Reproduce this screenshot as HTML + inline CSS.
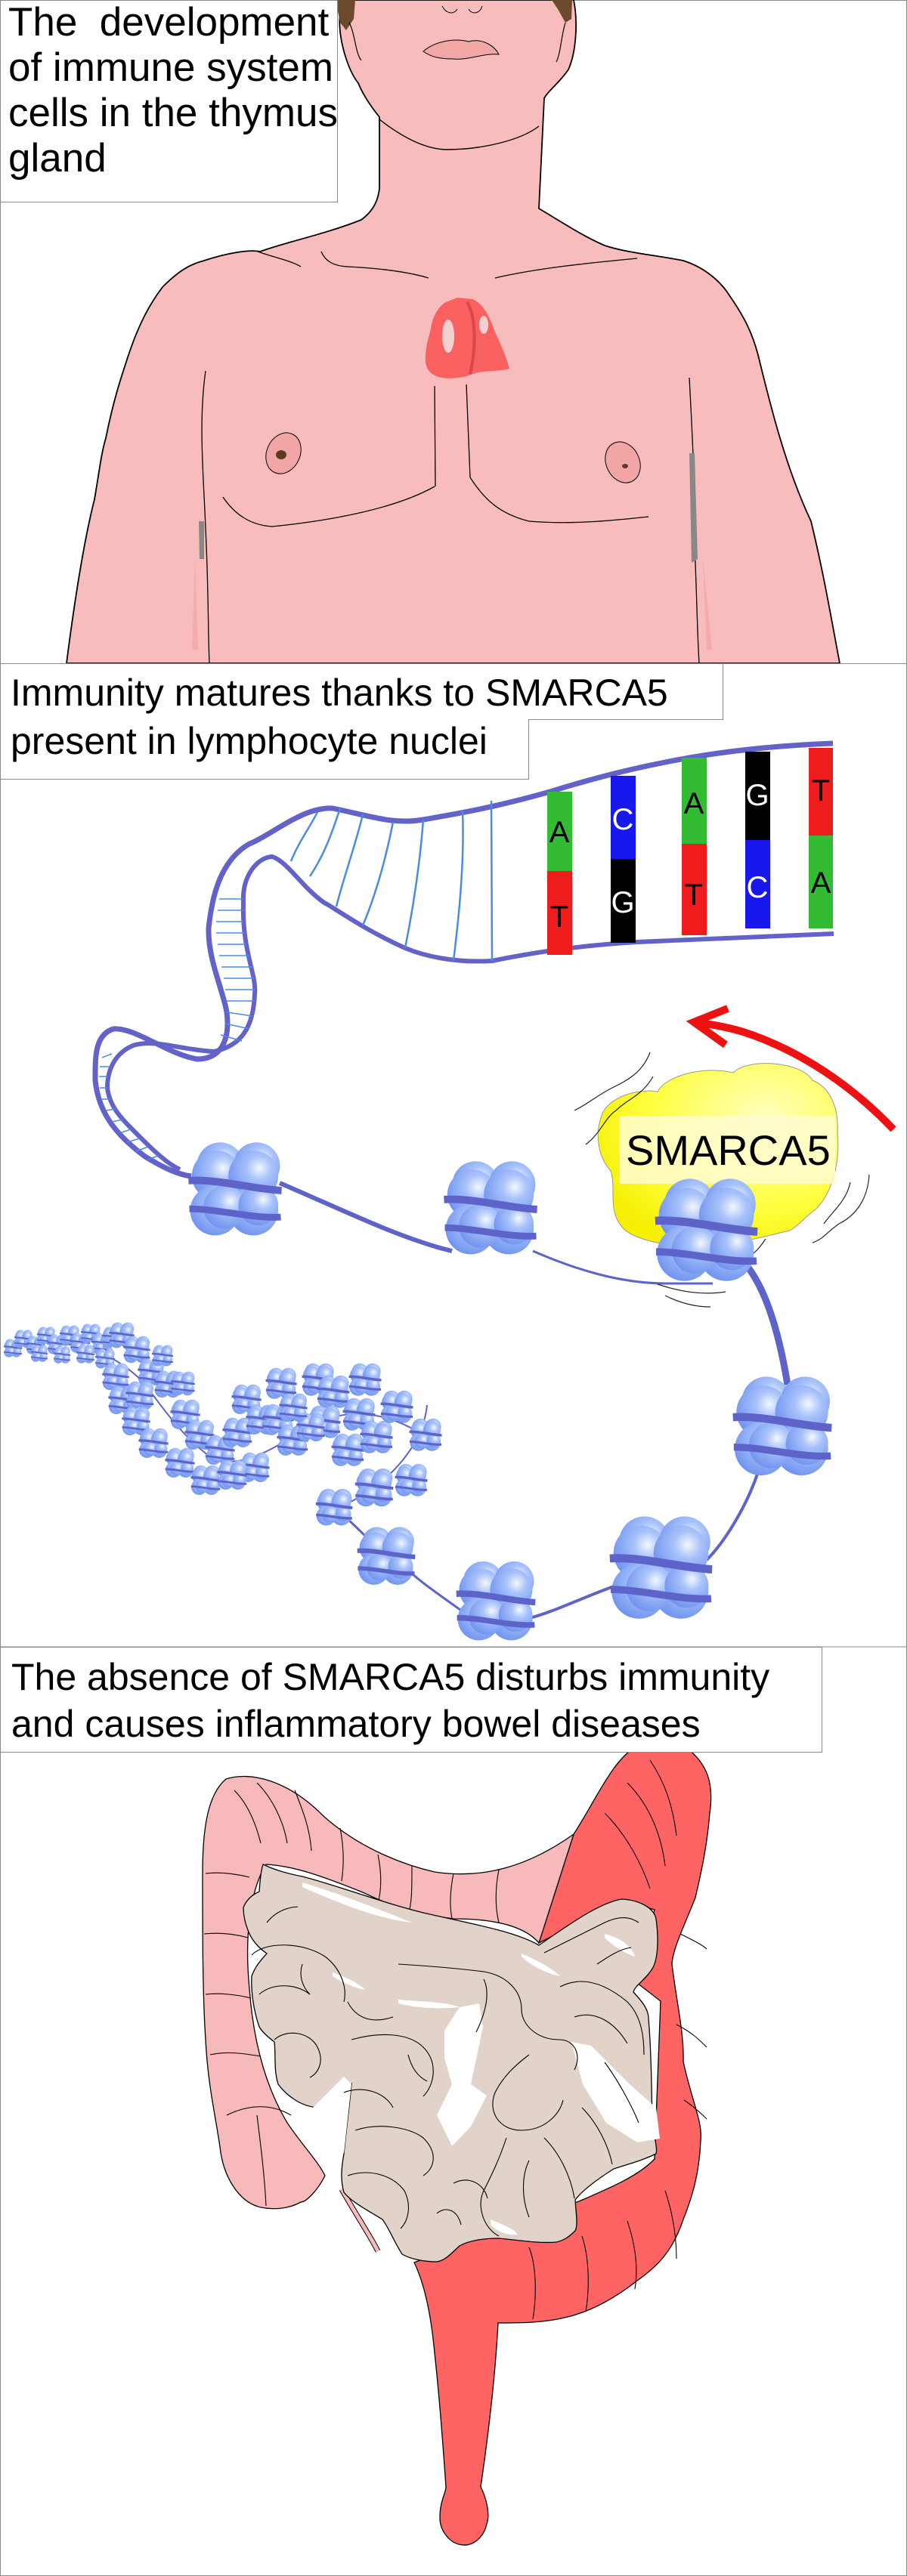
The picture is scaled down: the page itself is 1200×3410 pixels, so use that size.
<!DOCTYPE html>
<html><head><meta charset="utf-8"><style>
html,body{margin:0;padding:0;background:#fff}
#w{position:relative;width:1200px;height:3410px;overflow:hidden;background:#fff;font-family:"Liberation Sans",sans-serif}
svg{position:absolute;left:0;top:0}
.box{position:absolute;background:#fff;border:1px solid #8a8a8a;box-sizing:border-box;color:#000}
</style></head><body><div id="w">
<svg width="1200" height="3410" viewBox="0 0 1200 3410">
<defs>
<radialGradient id="bg" cx="0.62" cy="0.35" r="0.7"><stop offset="0" stop-color="#f4f7ff"/><stop offset="0.35" stop-color="#a8c2fb"/><stop offset="1" stop-color="#6e92ee"/></radialGradient>
<radialGradient id="yg" cx="0.7" cy="0.3" r="0.8"><stop offset="0" stop-color="#ffffc0"/><stop offset="0.6" stop-color="#ffff40"/><stop offset="1" stop-color="#f5ef00"/></radialGradient>
<symbol id="nuc" viewBox="-60 -60 120 120">
<circle cx="-18" cy="-30" r="28" fill="url(#bg)"/><circle cx="26" cy="-30" r="28" fill="url(#bg)"/>
<circle cx="-22" cy="-18" r="30" fill="url(#bg)"/><circle cx="22" cy="-18" r="30" fill="url(#bg)"/>
<circle cx="-24" cy="24" r="30" fill="url(#bg)"/><circle cx="22" cy="24" r="30" fill="url(#bg)"/>
<circle cx="-12" cy="20" r="26" fill="url(#bg)"/><circle cx="28" cy="18" r="24" fill="url(#bg)"/>
<path d="M-56,-12 C-20,-14 20,-2 56,0" stroke="#5d63c8" stroke-width="9" fill="none"/>
<path d="M-55,22 C-20,22 20,34 55,32" stroke="#5d63c8" stroke-width="8" fill="none"/>
</symbol>
</defs>
<rect x="0.5" y="0.5" width="1199" height="3409" fill="none" stroke="#8a8a8a"/>
<path d="M452,0 L759,0 C765,30 762,70 752,92 C740,110 725,120 720,130 L713,276 C740,292 770,312 800,325 C830,335 870,338 904,345 C935,355 955,375 965,391 C985,420 995,440 1003,470 C1020,540 1040,620 1073,690 C1090,760 1100,820 1111,878 L88,878 C98,800 110,720 125,661 C132,620 134,600 140,580 C150,530 160,500 170,470 C185,425 200,400 215,380 C235,360 250,350 270,345 C300,335 330,330 344,333 C380,320 430,310 478,291 C490,282 500,270 502,249 L502,155 C490,140 480,125 474,110 C462,95 455,70 452,55 C448,35 449,15 452,0 Z" fill="#f8bcbc" stroke="#000" stroke-width="1.8"/>
<path d="M444,0 L470,0 L468,25 L458,40 L450,30 Z" fill="#6b4a2e"/>
<path d="M730,0 L757,0 L756,25 L748,30 L738,12 Z" fill="#6b4a2e"/>
<path d="M462,30 C470,45 470,70 478,80" stroke="#000" fill="none" stroke-width="1.2"/>
<path d="M748,30 C742,50 742,70 736,82" stroke="#000" fill="none" stroke-width="1.2"/>
<path d="M560,68 C575,55 600,50 620,55 C640,50 655,62 660,72 C640,70 620,80 600,78 C580,78 570,75 560,68 Z" fill="#f2a7a7" stroke="#000" stroke-width="1"/>
<path d="M585,8 C590,18 600,20 605,12 M620,12 C625,20 635,18 638,8" stroke="#000" fill="none" stroke-width="1"/>
<path d="M502,158 C530,180 560,197 590,198 C640,198 690,185 713,167" stroke="#000" fill="none" stroke-width="1.4"/>
<path d="M341,333 C360,340 385,345 398,353 M425,333 C430,345 440,352 460,353 C500,355 540,360 567,368 M655,368 C710,355 780,348 843,342" stroke="#000" fill="none" stroke-width="1.3"/>
<path d="M575,511 L576,644 M617,509 L622,632" stroke="#000" fill="none" stroke-width="1.3"/>
<path d="M295,658 C310,680 330,695 360,697 C430,690 520,675 575,644 M622,632 C640,660 660,680 700,690 C760,695 820,688 858,684" stroke="#000" fill="none" stroke-width="1.3"/>
<path d="M272,491 C262,560 270,640 272,700 C276,780 275,830 277,878 M912,500 C915,560 920,640 918,700 C922,780 922,830 925,878" stroke="#000" fill="none" stroke-width="1.3"/>
<path d="M263,690 L270,690 L270,740 L264,740 Z" fill="#888"/>
<path d="M912,600 L919,600 L923,740 L915,745 Z" fill="#888"/>
<path d="M258,740 L262,860 L254,860 Z M930,740 L942,860 L935,860 Z" fill="#f0a0a0" opacity="0.6"/>
<ellipse cx="375" cy="600" rx="22" ry="28" transform="rotate(25 375 600)" fill="#f2a5a5" stroke="#000" stroke-width="1"/>
<ellipse cx="372" cy="602" rx="7" ry="6" fill="#5c3b20"/>
<ellipse cx="824" cy="612" rx="22" ry="28" transform="rotate(-25 824 612)" fill="#f2a5a5" stroke="#000" stroke-width="1"/>
<ellipse cx="827" cy="617" rx="4" ry="3" fill="#5c3b20"/>
<path d="M590,400 L605,394 L625,396 C640,402 648,420 655,440 C665,460 672,480 674,488 C660,492 640,490 625,495 C615,500 595,502 585,500 C570,497 565,490 563,480 C562,460 568,445 570,435 C572,420 580,405 590,400 Z" fill="#f96060"/>
<path d="M618,400 C630,420 630,460 622,495" stroke="#d84848" stroke-width="4" fill="none"/>
<ellipse cx="593" cy="445" rx="8" ry="22" fill="#f4d0d0"/><ellipse cx="640" cy="430" rx="6" ry="12" fill="#f4d0d0"/>
<line x1="0" y1="878.5" x2="1200" y2="878.5" stroke="#8a8a8a"/>

<path d="M1102,984 C1000,988 880,1000 728,1048 C650,1070 600,1078 560,1085 C520,1092 490,1080 440,1070 C400,1068 360,1105 330,1117 C290,1140 280,1190 276,1229 C275,1270 295,1310 300,1340 C305,1380 290,1402 261,1402 C220,1395 180,1360 150,1362 C125,1370 126,1400 126,1430 C130,1470 150,1500 192,1531 C215,1545 235,1555 253,1557" fill="none" stroke="#6262c8" stroke-width="7"/>
<path d="M1103,1236 C1000,1240 900,1245 843,1247 C760,1252 700,1262 651,1272 C600,1275 560,1265 536,1255 C480,1230 440,1200 429,1195 C400,1175 380,1140 360,1134 C340,1135 320,1160 322,1195 C320,1260 340,1290 337,1316 C335,1360 320,1384 283,1392 C240,1390 205,1375 176,1384 C150,1395 142,1419 142,1440 C145,1465 160,1480 180,1500 C200,1520 220,1540 238,1548" fill="none" stroke="#6262c8" stroke-width="6"/>
<g stroke="#4a8ae8" stroke-width="2.5" fill="none">
<path d="M650,1060 L651,1272 M612,1073 C615,1150 605,1230 600,1272 M560,1085 C555,1150 545,1210 536,1255 M520,1088 C510,1140 495,1190 480,1225 M480,1078 C470,1120 455,1160 445,1200 M450,1070 C440,1100 430,1130 410,1160 M420,1075 C410,1095 395,1115 385,1140"/>
</g>
<g stroke="#4a8ae8" stroke-width="1.5">
<path d="M290,1190 L322,1190 M288,1205 L322,1205 M286,1220 L322,1220 M286,1235 L324,1235 M288,1250 L326,1250 M290,1265 L330,1265 M293,1280 L334,1280 M296,1295 L336,1295 M298,1310 L337,1310 M300,1325 L336,1325 M300,1340 L334,1345 M298,1355 L330,1362 M292,1370 L320,1378"/>
<path d="M135,1400 L148,1395 M132,1412 L144,1412 M131,1425 L142,1425 M132,1440 L142,1440 M135,1455 L147,1455 M140,1470 L153,1468 M148,1485 L163,1482 M158,1500 L173,1495 M168,1512 L185,1507 M180,1524 L196,1518 M195,1535 L210,1530"/>
</g>
<rect x="724" y="1048" width="33" height="105" fill="#33bb33"/><rect x="724" y="1153" width="33" height="111" fill="#ee1c1c"/>
<rect x="808" y="1027" width="33" height="110" fill="#1818ee"/><rect x="808" y="1137" width="33" height="111" fill="#000"/>
<rect x="902" y="1003" width="33" height="114" fill="#33bb33"/><rect x="902" y="1117" width="33" height="121" fill="#ee1c1c"/>
<rect x="986" y="995" width="33" height="117" fill="#000"/><rect x="986" y="1112" width="33" height="117" fill="#1818ee"/>
<rect x="1070" y="990" width="32" height="116" fill="#ee1c1c"/><rect x="1070" y="1106" width="32" height="123" fill="#33bb33"/>
<g font-family="Liberation Sans, sans-serif" font-size="40" text-anchor="middle">
<text x="740" y="1115">A</text><text x="740" y="1227">T</text>
<text x="824" y="1098" fill="#fff">C</text><text x="824" y="1208" fill="#fff">G</text>
<text x="918" y="1077">A</text><text x="918" y="1198">T</text>
<text x="1002" y="1066" fill="#fff">G</text><text x="1002" y="1188" fill="#fff">C</text>
<text x="1086" y="1060">T</text><text x="1086" y="1182">A</text>
</g>
<path d="M1182,1495 C1130,1440 1060,1390 980,1365 C955,1358 935,1355 920,1354" fill="none" stroke="#ee1111" stroke-width="10"/>
<path d="M963,1335 L918,1353 L960,1383" fill="none" stroke="#ee1111" stroke-width="10"/>
<g fill="none" stroke="#5d63c8">
<path d="M370,1566 C450,1600 530,1640 598,1656" stroke-width="6"/>
<path d="M705,1656 C760,1680 820,1699 881,1699 L943,1699" stroke-width="3"/>
<path d="M973,1660 C1010,1690 1030,1760 1042,1833" stroke-width="9"/>
<path d="M1004,1945 C990,1990 960,2040 935,2065" stroke-width="4"/>
<path d="M812,2100 C770,2115 730,2135 697,2143" stroke-width="4"/>
<path d="M613,2134 C580,2110 550,2090 536,2074" stroke-width="3"/>
<path d="M490,2040 C470,2020 455,2005 441,1997" stroke-width="3"/>
<path d="M460,1990 C520,1960 560,1910 565,1860" stroke-width="2"/>
<path d="M20,1780 C100,1770 150,1790 190,1830 C220,1870 240,1900 280,1930 C330,1950 380,1900 430,1880 C480,1860 530,1880 560,1900" stroke-width="2"/>
</g>
<path d="M795,1480 C800,1455 840,1440 870,1445 C880,1425 930,1410 970,1420 C990,1400 1060,1405 1075,1430 C1100,1440 1110,1470 1108,1500 C1112,1540 1100,1580 1080,1600 C1060,1615 1050,1630 1040,1630 C1000,1640 960,1650 920,1650 C880,1650 830,1640 820,1620 C805,1600 815,1570 808,1550 C790,1530 788,1500 795,1480 Z" fill="url(#yg)" stroke="#999" stroke-width="1"/>
<rect x="820" y="1477" width="285" height="90" fill="#fffbd0" opacity="0.85"/>
<text x="828" y="1542" font-family="Liberation Sans, sans-serif" font-size="56">SMARCA5</text>
<g fill="none" stroke="#222" stroke-width="1.2">
<path d="M860,1393 C850,1420 830,1430 810,1440 C790,1450 780,1460 760,1470"/>
<path d="M864,1425 C850,1450 830,1455 815,1470 C800,1480 795,1500 775,1515"/>
<path d="M1150,1555 C1148,1590 1130,1610 1110,1620 C1095,1630 1090,1640 1075,1645"/>
<path d="M1125,1565 C1120,1590 1100,1605 1090,1620"/>
<path d="M1013,1640 C1000,1660 985,1670 970,1672"/>
<path d="M870,1700 C900,1710 930,1715 960,1710"/>
<path d="M880,1715 C900,1725 920,1730 940,1730"/>
</g>
<use href="#nuc" x="245" y="1510" width="132" height="132"/>
<use href="#nuc" x="583" y="1535" width="132" height="132"/>
<use href="#nuc" x="862" y="1558" width="145" height="145"/>
<use href="#nuc" x="965" y="1820" width="140" height="140"/>
<use href="#nuc" x="802" y="2005" width="145" height="145"/>
<use href="#nuc" x="600" y="2065" width="112" height="112"/>
<use href="#nuc" x="470" y="2020" width="82" height="82"/>
<use href="#nuc" x="416" y="1970" width="52" height="52"/>
<use href="#nuc" x="468" y="1943" width="54" height="54"/>
<g>
<use href="#nuc" x="4" y="1772" width="26" height="26"/><use href="#nuc" x="18" y="1760" width="26" height="26"/>
<use href="#nuc" x="34" y="1768" width="26" height="26"/><use href="#nuc" x="48" y="1756" width="26" height="26"/>
<use href="#nuc" x="62" y="1766" width="28" height="28"/><use href="#nuc" x="78" y="1754" width="28" height="28"/>
<use href="#nuc" x="92" y="1764" width="28" height="28"/><use href="#nuc" x="106" y="1752" width="28" height="28"/>
<use href="#nuc" x="120" y="1764" width="30" height="30"/><use href="#nuc" x="134" y="1756" width="30" height="30"/>
<use href="#nuc" x="40" y="1780" width="24" height="24"/><use href="#nuc" x="70" y="1782" width="24" height="24"/>
<use href="#nuc" x="100" y="1780" width="26" height="26"/><use href="#nuc" x="125" y="1785" width="28" height="28"/>
<use href="#nuc" x="143" y="1750" width="36" height="36"/><use href="#nuc" x="162" y="1768" width="38" height="38"/>
<use href="#nuc" x="181" y="1798" width="38" height="38"/><use href="#nuc" x="203" y="1814" width="38" height="38"/>
<use href="#nuc" x="134" y="1804" width="38" height="38"/><use href="#nuc" x="142" y="1834" width="40" height="40"/>
<use href="#nuc" x="165" y="1828" width="40" height="40"/><use href="#nuc" x="160" y="1862" width="40" height="40"/>
<use href="#nuc" x="182" y="1890" width="42" height="42"/><use href="#nuc" x="224" y="1852" width="42" height="42"/>
<use href="#nuc" x="217" y="1916" width="42" height="42"/><use href="#nuc" x="251" y="1939" width="42" height="42"/>
<use href="#nuc" x="243" y="1879" width="42" height="42"/><use href="#nuc" x="270" y="1899" width="42" height="42"/>
<use href="#nuc" x="293" y="1876" width="42" height="42"/><use href="#nuc" x="305" y="1832" width="42" height="42"/>
<use href="#nuc" x="324" y="1859" width="42" height="42"/><use href="#nuc" x="316" y="1922" width="42" height="42"/>
<use href="#nuc" x="286" y="1932" width="42" height="42"/><use href="#nuc" x="350" y="1810" width="44" height="44"/>
<use href="#nuc" x="346" y="1858" width="44" height="44"/><use href="#nuc" x="365" y="1885" width="44" height="44"/>
<use href="#nuc" x="398" y="1804" width="46" height="46"/><use href="#nuc" x="418" y="1820" width="46" height="46"/>
<use href="#nuc" x="406" y="1860" width="46" height="46"/><use href="#nuc" x="437" y="1897" width="46" height="46"/>
<use href="#nuc" x="460" y="1804" width="46" height="46"/><use href="#nuc" x="452" y="1850" width="46" height="46"/>
<use href="#nuc" x="475" y="1880" width="46" height="46"/><use href="#nuc" x="502" y="1840" width="46" height="46"/>
<use href="#nuc" x="540" y="1877" width="46" height="46"/><use href="#nuc" x="521" y="1937" width="46" height="46"/>
<use href="#nuc" x="391" y="1870" width="40" height="40"/><use href="#nuc" x="368" y="1844" width="40" height="40"/>
<use href="#nuc" x="200" y="1780" width="30" height="30"/><use href="#nuc" x="225" y="1815" width="34" height="34"/>
</g>
<line x1="0" y1="2180" x2="1200" y2="2180" stroke="#8a8a8a"/>

<path d="M713,2572 L759,2428 C790,2380 810,2330 843,2311 C865,2300 889,2303 910,2315 C935,2335 945,2360 939,2400 C935,2450 925,2490 920,2512 C905,2550 890,2580 889,2600 C895,2650 905,2690 904,2729 C915,2780 930,2810 927,2834 C925,2880 915,2910 904,2938 C890,2980 870,3000 843,3019 C810,3045 780,3060 751,3067 C720,3075 690,3075 659,3075 C655,3150 645,3230 636,3292 C645,3310 648,3330 644,3341 C640,3360 625,3370 613,3369 C595,3368 582,3350 582,3333 C582,3310 590,3300 590,3292 C585,3220 580,3160 575,3115 C570,3060 560,3020 548,2995 L590,2979 C650,2950 710,2935 766,2914 C810,2895 845,2880 866,2858 L874,2649 L843,2625 L866,2528 L824,2516 Z" fill="#fe6464" stroke="#000" stroke-width="1.3"/>
<g fill="none" stroke="#000" stroke-width="1.1">
<path d="M860,2330 C880,2360 890,2390 895,2430 M830,2360 C860,2390 875,2430 880,2470 M800,2400 C830,2430 850,2470 860,2500 M900,2560 C920,2570 930,2575 935,2580 M895,2680 C915,2690 925,2700 935,2710 M905,2780 C920,2790 930,2800 935,2805 M880,2900 C890,2930 895,2960 895,2990 M830,2940 C840,2970 845,3000 840,3030 M770,2960 C780,2990 780,3030 775,3060 M700,2975 C710,3000 710,3040 705,3070"/>
</g>
<path d="M299,2355 C330,2345 380,2355 429,2405 C480,2450 540,2470 575,2478 C640,2488 700,2470 759,2428 L713,2572 C690,2545 640,2540 600,2540 C560,2535 520,2525 480,2505 C430,2485 390,2470 352,2468 C335,2495 322,2550 330,2633 C335,2700 350,2760 380,2810 C400,2840 420,2860 430,2880 C420,2900 405,2915 398,2915 C380,2925 360,2925 345,2922 C315,2915 295,2880 291,2842 C285,2800 275,2760 272,2700 C268,2640 268,2560 268,2480 C268,2420 275,2375 299,2355 Z" fill="#f7b9b9" stroke="#000" stroke-width="1.3"/>
<path d="M452,2898 C470,2930 490,2960 500,2980" stroke="#000" stroke-width="7" fill="none"/>
<path d="M452,2898 C470,2930 490,2960 500,2980" stroke="#f7b9b9" stroke-width="5" fill="none"/>
<g fill="none" stroke="#000" stroke-width="1.1">
<path d="M310,2370 C330,2390 340,2420 345,2440 M340,2360 C360,2380 375,2410 380,2440 M390,2370 C400,2395 410,2420 412,2450 M450,2420 C455,2445 455,2470 452,2490 M500,2455 C505,2480 505,2500 500,2520 M545,2470 C545,2500 545,2520 540,2535 M600,2480 C595,2505 595,2525 598,2540 M660,2475 C655,2500 655,2525 660,2545 M272,2480 C290,2478 310,2480 330,2485 M270,2560 C290,2558 310,2560 328,2565 M272,2640 C290,2638 312,2640 332,2645 M278,2720 C300,2715 320,2718 345,2722 M300,2800 C330,2785 360,2785 385,2800 M340,2800 C345,2840 350,2880 352,2920"/>
</g>
<path d="M348,2468 C365,2476 380,2480 400,2484 C450,2497 500,2517 560,2532 C620,2546 680,2556 713,2575 C750,2550 790,2520 822,2514 C845,2515 865,2525 868,2540 C872,2570 870,2595 863,2606 C855,2620 840,2628 838,2637 C850,2650 858,2660 858,2672 C862,2720 862,2770 863,2810 C866,2830 870,2845 868,2851 C850,2860 830,2865 812,2871 C790,2885 770,2900 761,2912 C762,2930 765,2945 761,2953 C752,2962 745,2966 736,2968 C710,2970 685,2965 659,2963 C640,2963 620,2966 608,2973 C598,2982 590,2992 578,2994 C560,2994 542,2990 532,2984 C520,2965 515,2950 506,2938 C485,2925 465,2915 455,2902 C450,2885 452,2868 455,2851 C458,2820 462,2790 465,2759 C455,2772 440,2785 424,2790 C400,2790 380,2775 368,2759 C362,2740 365,2720 363,2703 C355,2697 347,2690 343,2683 C335,2660 332,2635 333,2616 C338,2602 346,2594 353,2586 C340,2577 332,2566 328,2555 C324,2545 322,2535 322,2525 C326,2515 334,2508 343,2504 C344,2490 345,2478 348,2468 Z" fill="#e2d3ca" stroke="#000" stroke-width="1.3"/>
<g fill="#fff">
<path d="M400,2492 C450,2507 500,2527 545,2545 C500,2540 450,2520 400,2498 Z"/>
<path d="M440,2611 C460,2618 475,2626 483,2634 C470,2632 452,2624 440,2616 Z"/>
<path d="M527,2647 C560,2650 590,2650 608,2657 C580,2660 550,2658 527,2652 Z"/>
<path d="M588,2688 L608,2657 L634,2652 L639,2683 L623,2759 L644,2774 L623,2815 L598,2841 L578,2800 L598,2759 L588,2724 Z"/>
<path d="M756,2703 L782,2708 L833,2759 L868,2790 L873,2831 L843,2836 L802,2810 L771,2759 Z"/>
<path d="M414,2790 L455,2749 L465,2759 L455,2851 L440,2800 Z"/>
<path d="M649,2938 C665,2945 680,2950 685,2958 C670,2960 655,2952 649,2945 Z"/>
<path d="M690,2586 C710,2595 730,2605 741,2616 C720,2612 700,2600 690,2590 Z"/>
<path d="M800,2560 C820,2565 835,2575 840,2590 C825,2585 810,2575 800,2565 Z"/>
</g>
<g fill="none" stroke="#000" stroke-width="1.1">
<path d="M353,2545 C365,2530 380,2525 394,2524"/>
<path d="M333,2588 C350,2570 400,2570 430,2590 C450,2605 460,2630 455,2650"/>
<path d="M343,2640 C360,2625 390,2625 410,2640"/>
<path d="M363,2700 C380,2685 410,2690 420,2710 C430,2730 420,2745 410,2750"/>
<path d="M460,2650 C470,2670 490,2680 520,2670"/>
<path d="M465,2700 C500,2690 540,2690 560,2710 C580,2730 575,2760 560,2775"/>
<path d="M455,2770 C480,2760 510,2770 520,2790"/>
<path d="M470,2820 C500,2810 540,2815 560,2830 C580,2850 575,2870 560,2880"/>
<path d="M460,2880 C490,2870 520,2880 535,2900 C545,2920 540,2940 530,2950"/>
<path d="M527,2600 C560,2602 600,2605 640,2610 C670,2615 690,2635 690,2660 C690,2680 710,2700 740,2700 C760,2700 770,2720 760,2740"/>
<path d="M640,2620 C650,2640 640,2670 630,2690"/>
<path d="M700,2720 C680,2735 665,2750 655,2770 C645,2795 660,2820 690,2820 C720,2820 740,2800 745,2780"/>
<path d="M670,2830 C660,2860 650,2880 640,2900 C630,2920 640,2950 660,2960"/>
<path d="M720,2830 C740,2850 755,2880 760,2910"/>
<path d="M700,2860 C690,2880 690,2910 700,2935"/>
<path d="M600,2890 C620,2880 640,2890 645,2910"/>
<path d="M578,2930 C590,2920 605,2925 610,2945"/>
<path d="M741,2630 C770,2615 800,2625 830,2650 C850,2670 852,2700 852,2720"/>
<path d="M760,2670 C790,2660 815,2680 830,2705"/>
<path d="M720,2585 C740,2575 770,2560 800,2545 C815,2538 830,2535 845,2545"/>
<path d="M790,2600 C805,2590 820,2580 835,2578"/>
<path d="M800,2730 C815,2750 835,2785 845,2810"/>
<path d="M770,2790 C790,2810 805,2840 810,2865"/>
<path d="M400,2600 C395,2615 400,2630 410,2640"/>
<path d="M540,2720 C545,2740 555,2750 565,2755"/>
</g>
</svg>

<div class="box" style="left:0;top:0;width:447px;height:268px;padding:0 0 0 10px;font-size:53px;line-height:60px;white-space:nowrap"><div style="margin-top:-1px">The&nbsp; development<br>of immune system<br>cells in the thymus<br>gland</div></div>
<div class="box" style="left:0;top:878px;width:957px;height:75px"></div>
<div class="box" style="left:0;top:952px;width:700px;height:80px;border-top:none"></div>
<div style="position:absolute;left:14px;top:885px;font-size:50px;line-height:64px;white-space:nowrap">Immunity matures thanks to SMARCA5<br>present in lymphocyte nuclei</div>
<div class="box" style="left:0;top:2180px;width:1088px;height:140px;padding:8px 0 0 14px;font-size:50px;line-height:62px;white-space:nowrap">The absence of SMARCA5 disturbs immunity<br>and causes inflammatory bowel diseases</div>
</div></body></html>
